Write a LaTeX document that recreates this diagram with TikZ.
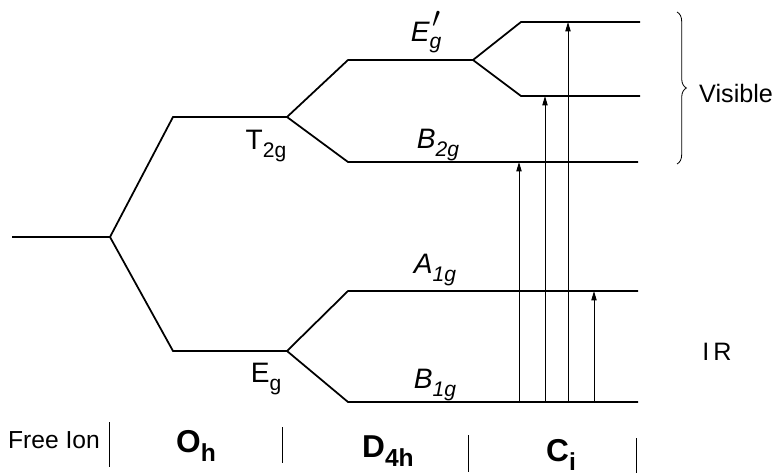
\documentclass[tikz,border=0pt]{standalone}
\usepackage{fontspec}
\setmainfont{Liberation Sans}
\usetikzlibrary{arrows.meta, positioning, decorations.pathreplacing}

\newcommand{\lsub}[1]{\raisebox{-6pt}{\fontsize{18}{18}\selectfont #1}}
\newcommand{\gsub}[1]{\raisebox{-8pt}{\fontsize{21}{21}\selectfont #1}}

\tikzset{
    level/.style={line width=1.5pt},
    trans/.style={line width=0.8pt, -{Triangle[length=8pt, width=4.5pt]}},
    sep/.style={line width=0.7pt},
    lbl/.style={font=\fontsize{24}{26}\selectfont, inner sep=0pt},
    grp/.style={font=\fontsize{27}{30}\selectfont\bfseries, inner sep=0pt},
}

\begin{document}
\begin{tikzpicture}[x=0.03cm, y=-0.03cm]
    \useasboundingbox (0, 0) rectangle (777, 476);

    % Free ion
    \coordinate (fi0) at (12, 237);
    \coordinate (fi1) at (110, 237);

    % Oh levels
    \coordinate (t2l) at (173, 117);
    \coordinate (t2r) at (287, 117);
    \coordinate (egl) at (173, 351);
    \coordinate (egr) at (287, 351);

    % D4h levels
    \coordinate (epl) at (348, 60);
    \coordinate (epr) at (473, 60);
    \coordinate (b2l) at (348, 162);
    \coordinate (b2r) at (638, 162);
    \coordinate (a1l) at (348, 291);
    \coordinate (a1r) at (638, 291);
    \coordinate (b1l) at (348, 402);
    \coordinate (b1r) at (638, 402);

    % Ci levels
    \coordinate (upl) at (521, 22);
    \coordinate (upr) at (640, 22);
    \coordinate (lol) at (521, 96);
    \coordinate (lor) at (640, 96);

    \draw[level] (fi0) -- (fi1) -- (t2l) -- (t2r) -- (epl) -- (epr) -- (upl) -- (upr);
    \draw[level] (fi1) -- (egl) -- (egr) -- (a1l) -- (a1r);
    \draw[level] (t2r) -- (b2l) -- (b2r);
    \draw[level] (egr) -- (b1l) -- (b1r);
    \draw[level] (epr) -- (lol) -- (lor);

    % Level labels
    \node[lbl] (t2g) at (266, 146) {T\lsub{2g}};
    \node[lbl] (eg) at (266, 379) {E\lsub{g}};
    \node[lbl] (epg) at (426, 32) {\itshape E\lsub{g}\llap{\raisebox{12pt}{$\prime$}\kern1pt}};
    \node[lbl] (b2g) at (438, 145) {\itshape B\lsub{2g}};
    \node[lbl] (a1g) at (435, 270) {\itshape A\lsub{1g}};
    \node[lbl] (b1g) at (435, 385) {\itshape B\lsub{1g}};

    % Transitions
    \coordinate (s1) at (519, 402);
    \coordinate (s2) at (545, 402);
    \coordinate (s3) at (568, 402);
    \coordinate (s4) at (594, 402);
    \coordinate (e1) at (519, 162);
    \coordinate (e2) at (545, 96);
    \coordinate (e3) at (568, 22);
    \coordinate (e4) at (594, 291);
    \draw[trans] (s1) -- (e1);
    \draw[trans] (s2) -- (e2);
    \draw[trans] (s3) -- (e3);
    \draw[trans] (s4) -- (e4);

    % Visible / IR
    \coordinate (br0) at (677, 12);
    \coordinate (br1) at (677, 164);
    \draw[sep, decorate, decoration={brace, amplitude=8pt}] (br0) -- (br1);
    \node[lbl, font=\fontsize{21.5}{24}\selectfont, anchor=west] (vis) at (699, 93) {Visible};
    \node[lbl, font=\fontsize{21.5}{24}\selectfont] (ir) at (717, 352) {I\,R};

    % Symmetry groups
    \node[lbl, font=\fontsize{21}{23}\selectfont] (free) at (54, 440) {Free Ion};
    \node[grp] (oh) at (196, 446) {O\gsub{h}};
    \node[grp] (d4h) at (388, 451) {D\gsub{4h}};
    \node[grp] (ci) at (561, 455) {C\gsub{i}};

    \coordinate (bar0t) at (109, 422);
    \coordinate (bar0b) at (109, 467);
    \coordinate (bar1t) at (282, 427);
    \coordinate (bar1b) at (282, 463);
    \coordinate (bar2t) at (468, 435);
    \coordinate (bar2b) at (468, 472);
    \coordinate (bar3t) at (636, 438);
    \coordinate (bar3b) at (636, 473);
    \draw[sep] (bar0t) -- (bar0b);
    \draw[sep] (bar1t) -- (bar1b);
    \draw[sep] (bar2t) -- (bar2b);
    \draw[sep] (bar3t) -- (bar3b);
\end{tikzpicture}
\end{document}
